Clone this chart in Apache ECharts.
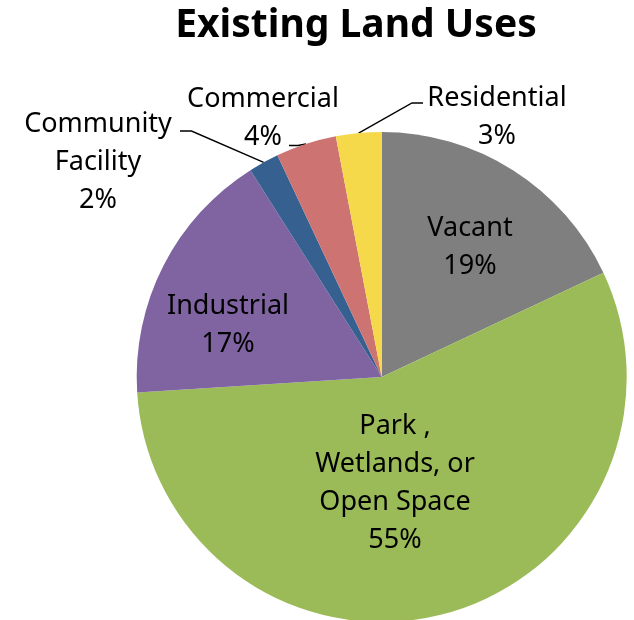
<!DOCTYPE html>
<html>
<head>
<meta charset="utf-8">
<script src="https://cdn.jsdelivr.net/npm/echarts@6/dist/echarts.min.js"></script>
<style>
  html, body { margin: 0; padding: 0; background: #fff; }
  #chart { width: 634px; height: 620px; }
</style>
</head>
<body>
<div id="chart"></div>
<script>
// ---- data ----
const categories = ['Vacant', 'Park ,\nWetlands, or\nOpen Space', 'Industrial', 'Community\nFacility', 'Commercial', 'Residential'];
const values = [18, 56, 17, 2, 4, 3];          // slice sizes
const labelPercents = ['19%', '55%', '17%', '2%', '4%', '3%']; // percentages printed on the chart
const titleText = 'Existing Land Uses';

// ---- styling ----
const colors = ['#7F7F7F', '#9BBB59', '#8064A2', '#36608F', '#CD7371', '#F5D94B'];
const labelCfg = [
  { pos: 'inside',  x: 470, y: 247 },
  { pos: 'inside',  x: 395, y: 483 },
  { pos: 'inside',  x: 228, y: 325 },
  { pos: 'outside', x: 98,  y: 162, line: [[191.5, 131], [180, 131]] },
  { pos: 'outside', x: 263, y: 118, line: [[298, 145.5], [289, 145.5]] },
  { pos: 'outside', x: 497, y: 117, line: [[412, 103], [423, 103]] }
];

const chart = echarts.init(document.getElementById('chart'), null, { renderer: 'canvas' });

const data = categories.map((name, i) => ({
  name: name,
  value: values[i],
  itemStyle: { color: colors[i] },
  label: { position: labelCfg[i].pos },
  labelLine: { show: labelCfg[i].pos === 'outside' }
}));

chart.setOption({
  animation: false,
  title: {
    text: titleText,
    left: 351,
    top: 1,
    textAlign: 'center',
    textStyle: { fontFamily: 'Noto Sans', fontWeight: 'bold', fontSize: 39, color: '#000' }
  },
  series: [{
    type: 'pie',
    center: [381.7, 377],
    radius: 245,
    startAngle: 90,
    clockwise: true,
    avoidLabelOverlap: false,
    data: data,
    itemStyle: { borderWidth: 0 },
    label: {
      show: true,
      formatter: p => p.name + '\n' + labelPercents[p.dataIndex],
      fontFamily: 'Noto Sans',
      fontSize: 27,
      lineHeight: 38,
      color: '#000',
      align: 'center'
    },
    labelLine: {
      length: 20,
      length2: 10,
      lineStyle: { color: '#000', width: 1.4 }
    },
    labelLayout: function (p) {
      const cfg = labelCfg[p.dataIndex];
      const out = { x: cfg.x, y: cfg.y, align: 'center', verticalAlign: 'middle' };
      if (cfg.line && p.labelLinePoints) {
        out.labelLinePoints = [p.labelLinePoints[0], cfg.line[0], cfg.line[1]];
      }
      return out;
    }
  }]
});
</script>
</body>
</html>
